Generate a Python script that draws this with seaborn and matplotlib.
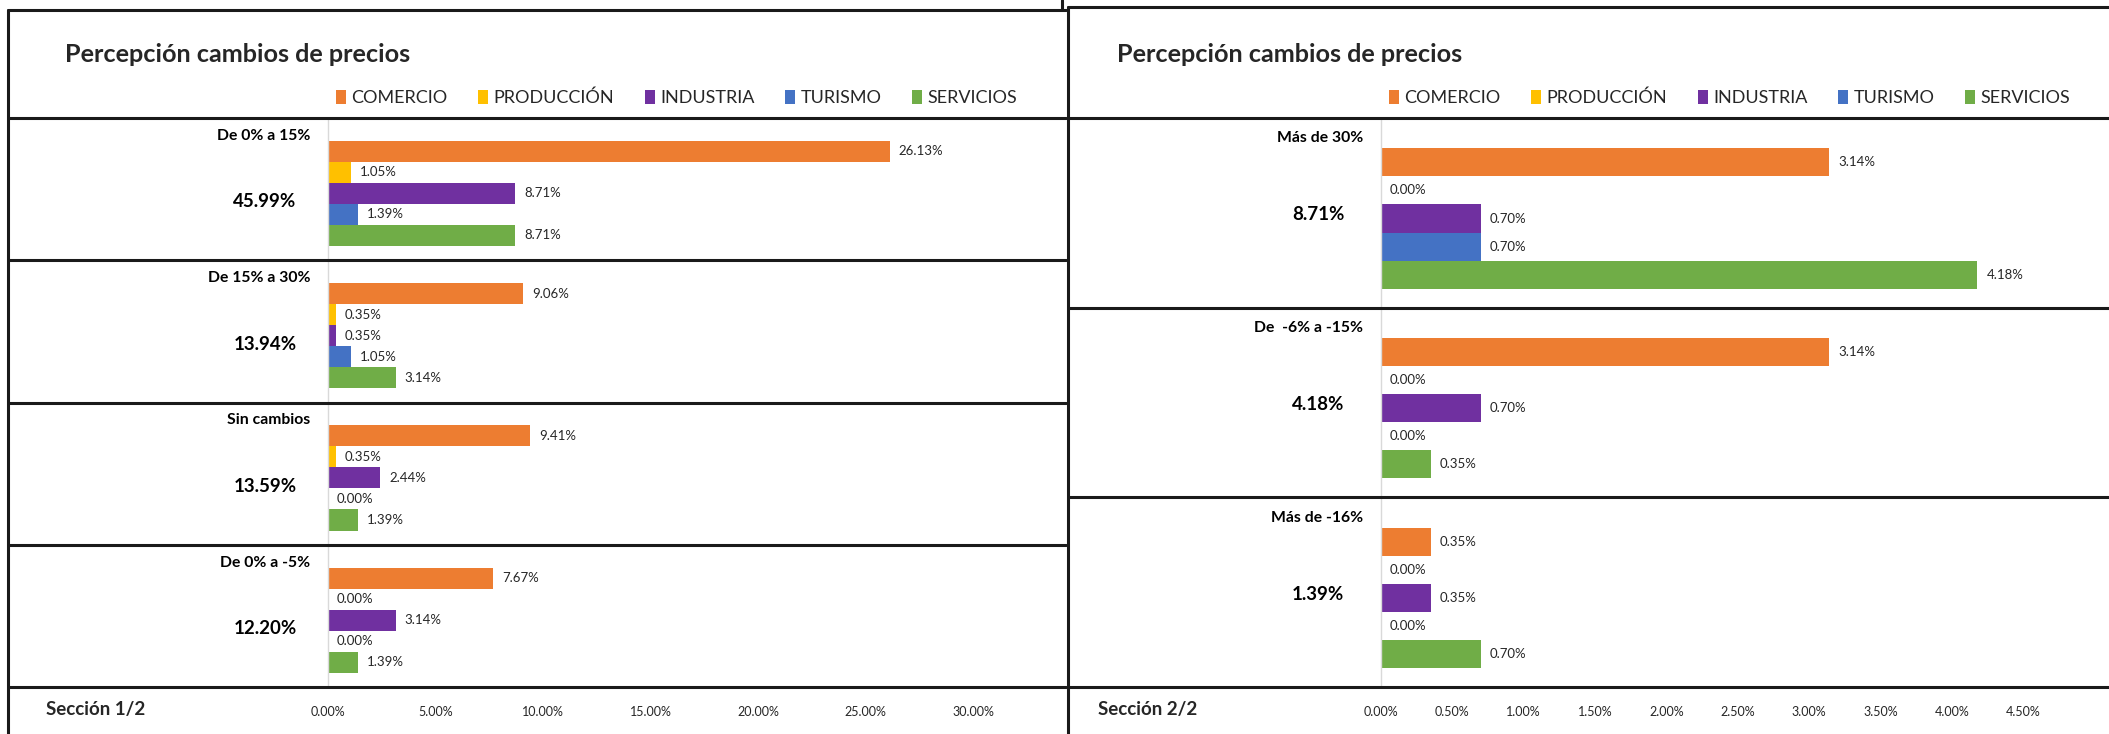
import matplotlib
matplotlib.use('Agg')
import pandas as pd
import matplotlib.pyplot as plt
import seaborn as sns
from matplotlib.patches import Patch
from matplotlib.lines import Line2D
from matplotlib.transforms import blended_transform_factory

# Series and categories
sectors = ['COMERCIO', 'PRODUCCIÓN', 'INDUSTRIA', 'TURISMO', 'SERVICIOS']
colors = ['#ED7D31', '#FFC000', '#7030A0', '#4472C4', '#70AD47']

left_groups = ['De 0% a 15%', 'De 15% a 30%', 'Sin cambios', 'De 0% a -5%']
left_totals = ['45.99%', '13.94%', '13.59%', '12.20%']
comercio_l = [26.13, 9.06, 9.41, 7.67]
produccion_l = [1.05, 0.35, 0.35, 0.00]
industria_l = [8.71, 0.35, 2.44, 3.14]
turismo_l = [1.39, 1.05, 0.00, 0.00]
servicios_l = [8.71, 3.14, 1.39, 1.39]
left_ticks = [0, 5, 10, 15, 20, 25, 30]

right_groups = ['Más de 30%', 'De  -6% a -15%', 'Más de -16%']
right_totals = ['8.71%', '4.18%', '1.39%']
comercio_r = [3.14, 3.14, 0.35]
produccion_r = [0.00, 0.00, 0.00]
industria_r = [0.70, 0.70, 0.35]
turismo_r = [0.70, 0.00, 0.00]
servicios_r = [4.18, 0.35, 0.70]
right_ticks = [0, 0.5, 1.0, 1.5, 2.0, 2.5, 3.0, 3.5, 4.0, 4.5]


def long_df(groups, series):
    rows = []
    for sector, vals in zip(sectors, series):
        for g, v in zip(groups, vals):
            rows.append({'grupo': g, 'sector': sector, 'valor': v})
    return pd.DataFrame(rows)


df_l = long_df(left_groups, [comercio_l, produccion_l, industria_l, turismo_l, servicios_l])
df_r = long_df(right_groups, [comercio_r, produccion_r, industria_r, turismo_r, servicios_r])

sns.set_style('white')
plt.rcParams['font.family'] = ['Lato', 'DejaVu Sans']

W, H = 2109, 734
fig = plt.figure(figsize=(W / 100, H / 100), dpi=100)


def fx(x):
    return x / W


def fy(y):
    return 1 - y / H


def hline(x0, x1, y, lw=2.2):
    fig.add_artist(Line2D([fx(x0), fx(x1)], [fy(y), fy(y)], color='#1a1a1a', lw=lw, transform=fig.transFigure))


def vline(x, y0, y1, lw=2.2):
    fig.add_artist(Line2D([fx(x), fx(x)], [fy(y0), fy(y1)], color='#1a1a1a', lw=lw, transform=fig.transFigure))


def panel(df, groups, totals, ticks, px0, px1, per_pct, frame_x0, frame_x1, top_y, title_x,
          section, legend_x, label_gap, total_off):
    y0, y1 = 118, 687
    n = len(groups)
    pitch = (y1 - y0) / n
    ax = fig.add_axes([fx(px0), fy(y1), (px1 - px0) / W, (y1 - y0) / H])
    sns.barplot(data=df, y='grupo', x='valor', hue='sector', hue_order=sectors, order=groups,
                palette=colors, saturation=1, orient='h', width=0.74, linewidth=0,
                errorbar=None, legend=False, ax=ax)
    d = 0.03
    ax.set_ylim(n - 0.5 - d, -0.5 - d)
    ax.set_xlim(0, (px1 - px0) / per_pct)
    for c in ax.containers:
        ax.bar_label(c, fmt=lambda v: f'{v:.2f}%', padding=6.5, fontsize=9.5, color='#262626')
    ax.set_xticks(ticks)
    ax.set_xticklabels([f'{t:.2f}%' for t in ticks])
    ax.tick_params(axis='x', length=0, pad=14, labelsize=9, colors='#262626')
    ax.set_yticks([])
    ax.set_xlabel('')
    ax.set_ylabel('')
    for s in ['top', 'right', 'bottom']:
        ax.spines[s].set_visible(False)
    ax.spines['left'].set_color('#d9d9d9')
    ax.spines['left'].set_linewidth(1)

    axw = px1 - px0
    tr = blended_transform_factory(ax.transAxes, ax.transData)
    for i, (g, t) in enumerate(zip(groups, totals)):
        ax.text(-18 / axw, i - 0.37 - label_gap / pitch, g, transform=tr, ha='right', va='center',
                fontsize=11.3, fontweight='bold', color='black')
        ax.text(-63 / axw, i + total_off, t, transform=tr, ha='center', va='center',
                fontsize=13.5, fontweight='bold', color='black')

    # frame lines
    hline(frame_x0, frame_x1, top_y)
    vline(frame_x0, top_y, H)
    for k in range(n + 1):
        hline(frame_x0, frame_x1, y0 + k * pitch)

    fig.text(fx(title_x), fy(54), 'Percepción cambios de precios', fontsize=18.2,
             fontweight='bold', ha='left', va='center')
    fig.text(fx(title_x - 19), fy(709), section, fontsize=13.5, fontweight='bold',
             ha='left', va='center')
    handles = [Patch(facecolor=c, edgecolor='none') for c in colors]
    fig.legend(handles, sectors, loc='center left', bbox_to_anchor=(fx(legend_x), fy(98)),
               ncol=5, frameon=False, fontsize=13, handlelength=0.55, handleheight=0.8,
               handletextpad=0.3, columnspacing=1.7, borderpad=0, borderaxespad=0)
    return ax


panel(df_l, left_groups, left_totals, left_ticks, 328, 1062, 21.5, 8, 1066, 10, 65,
      'Sección 1/2', 336, 5, 0.06)
panel(df_r, right_groups, right_totals, right_ticks, 1381, 2109, 142.7, 1068, 2109, 7, 1117,
      'Sección 2/2', 1389, 10, -0.02)
vline(1062, 0, 10)

plt.savefig('out.png', dpi=100)
plt.close()
